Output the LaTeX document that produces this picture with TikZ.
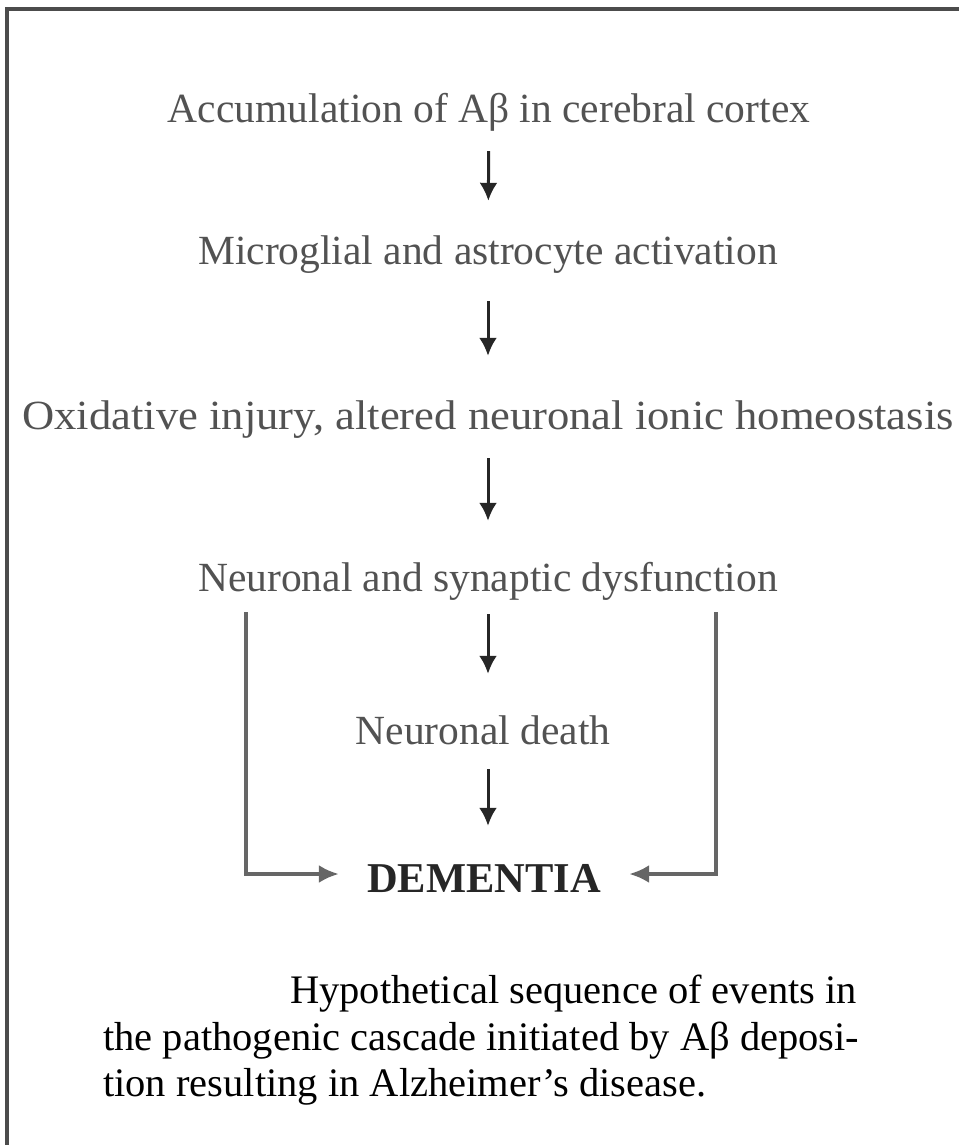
\documentclass[tikz,border=0pt]{standalone}
\usepackage{fontspec}
\setmainfont{Liberation Serif}
\usetikzlibrary{arrows.meta}
\definecolor{stagegray}{gray}{0.32}
\definecolor{framegray}{gray}{0.3}

\begin{document}
\begin{tikzpicture}[x=1pt,y=-1pt,
    stage/.style={text=stagegray, font=\fontsize{41.5}{41.5}\selectfont, inner sep=0pt, text height=34pt, text depth=6pt},
    flow/.style={-{Latex[length=18pt,width=18pt]}, line width=3pt, draw=black!85, shorten <=23pt, shorten >=36pt},
    sidepath/.style={-{Latex[length=20pt,width=18pt]}, line width=4pt, draw=black!60},
    caption/.style={font=\fontsize{40.5}{46.5}\selectfont, align=left, inner sep=0pt}]
    \useasboundingbox (0,0) rectangle (959,1145);
    \draw[line width=4pt, framegray] (7,1145) -- (7,9) -- (959,9);

    \node[stage] (accum) at (489,108) {Accumulation of Aβ in cerebral cortex};
    \node[stage] (microglia) at (488,250) {Microglial and astrocyte activation};
    \node[stage] (oxid) at (488,415) {\scalebox{1.075}[1]{Oxidative injury, altered neuronal ionic homeostasis}};
    \node[stage] (dysfunc) at (488,577) {Neuronal and synaptic dysfunction};
    \node[stage] (death) at (483,730) {Neuronal death};
    \node[stage, text=black!85, font=\fontsize{42.5}{42.5}\bfseries, text height=38pt, text depth=2pt, inner xsep=28pt] (dementia) at (484,874) {DEMENTIA};

    \draw[flow, shorten >=29pt] (accum) -- (microglia);
    \draw[flow, shorten <=31pt, shorten >=39pt] (microglia) -- (oxid);
    \draw[flow] (oxid) -- (dysfunc);
    \draw[flow, shorten <=17pt] (dysfunc) -- (dysfunc |- death.north);
    \draw[flow, shorten <=19pt, shorten >=28pt] (dysfunc |- death.south) -- (dysfunc |- dementia.north);

    % side paths straight from dysfunction to dementia
    \coordinate (lefttop) at (246,612);
    \coordinate (righttop) at (716,612);
    \draw[sidepath] (lefttop) |- (dementia.west);
    \draw[sidepath] (righttop) |- (dementia.east);

    \node[caption, anchor=north west] (note) at (103,975) {\hspace*{187pt}Hypothetical sequence of events in\\
      the pathogenic cascade initiated by Aβ deposi-\\
      tion resulting in Alzheimer’s disease.};
\end{tikzpicture}
\end{document}
